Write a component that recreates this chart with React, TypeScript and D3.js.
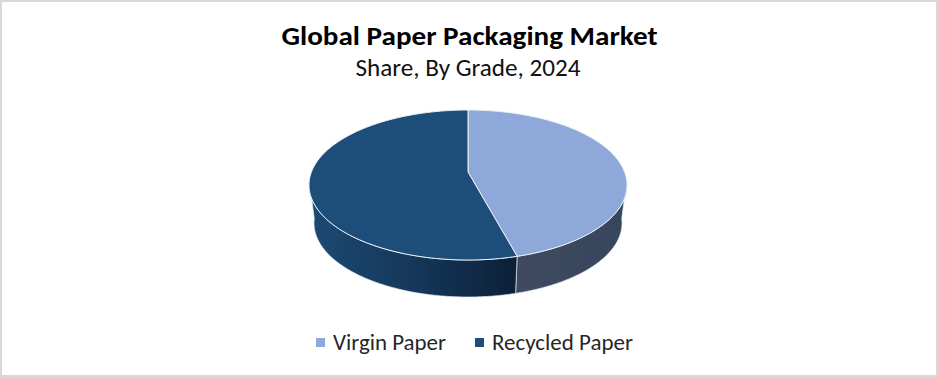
import React from "react";
import * as d3 from "d3";

const categories = ["Virgin Paper", "Recycled Paper"];
const shares = [45, 55];
const topColors = ["#8ea8d9", "#1d4d79"];

const W = 938, H = 377;
const top = { cx: 468, cy: 185, rx: 159, ry: 75, ax: 468, ay: 172 };
const bottom = { cx: 468, cy: 223, rx: 154, ry: 74 };

const pie = d3.pie<number>().sort(null)(shares);
const onEllipse = (e: { cx: number; cy: number; rx: number; ry: number }, a: number): [number, number] => [
  e.cx + e.rx * Math.sin(a),
  e.cy - e.ry * Math.cos(a),
];
const sample = (a0: number, a1: number) => d3.range(0, 121).map((i) => a0 + ((a1 - a0) * i) / 120);
const line = d3.line();

const slicePath = (a0: number, a1: number) =>
  line([[top.ax, top.ay], ...sample(a0, a1).map((a) => onEllipse(top, a))])! + "Z";

const sidePath = (a0: number, a1: number) => {
  const s0 = Math.max(a0, Math.PI / 2 - 0.06);
  const s1 = Math.min(a1, (3 * Math.PI) / 2 + 0.06);
  const angles = sample(s0, s1);
  return (
    line([...angles.map((a) => onEllipse(top, a)), ...angles.slice().reverse().map((a) => onEllipse(bottom, a))])! + "Z"
  );
};

const font = "Carlito, Lato, 'Open Sans', sans-serif";

export default function App() {
  return (
    <svg width={W} height={H} style={{ position: "absolute", left: 0, top: 0 }} fontFamily={font}>
      <defs>
        <linearGradient id="sideA" x1="0" x2="1" y1="0" y2="0">
          <stop offset="0" stopColor="#3f4a60" />
          <stop offset="1" stopColor="#36465c" />
        </linearGradient>
        <linearGradient id="sideB" x1="0" x2="1" y1="0" y2="0">
          <stop offset="0" stopColor="#1b4a74" />
          <stop offset="0.5" stopColor="#16375a" />
          <stop offset="1" stopColor="#0b2037" />
        </linearGradient>
      </defs>
      <rect x={1} y={1} width={W - 2} height={H - 2} fill="#fff" stroke="#d9d9d9" strokeWidth={2} />
      <text x={469.5} y={45} textAnchor="middle" fontSize={27} fontWeight={700} fill="#000" textLength={376} lengthAdjust="spacingAndGlyphs">
        Global Paper Packaging Market
      </text>
      <text x={468} y={76} textAnchor="middle" fontSize={24} fill="#111" textLength={225} lengthAdjust="spacingAndGlyphs">
        Share, By Grade, 2024
      </text>

      {pie.map((d, i) => (
        <path key={"s" + i} d={sidePath(d.startAngle, d.endAngle)} fill={`url(#${i === 0 ? "sideA" : "sideB"})`} stroke="#dfe5ee" strokeWidth={0.7} />
      ))}
      {pie.map((d, i) => (
        <path key={"t" + i} d={slicePath(d.startAngle, d.endAngle)} fill={topColors[i]} stroke="#eef1f7" strokeWidth={1} />
      ))}

      {categories.map((c, i) => {
        const x = [316, 475][i];
        return (
          <g key={c}>
            <rect x={x} y={338} width={9} height={9} fill={topColors[i]} />
            <text x={[333, 492][i]} y={350} fontSize={22} fill="#262626" textLength={[113, 141][i]} lengthAdjust="spacingAndGlyphs">
              {c}
            </text>
          </g>
        );
      })}
    </svg>
  );
}
